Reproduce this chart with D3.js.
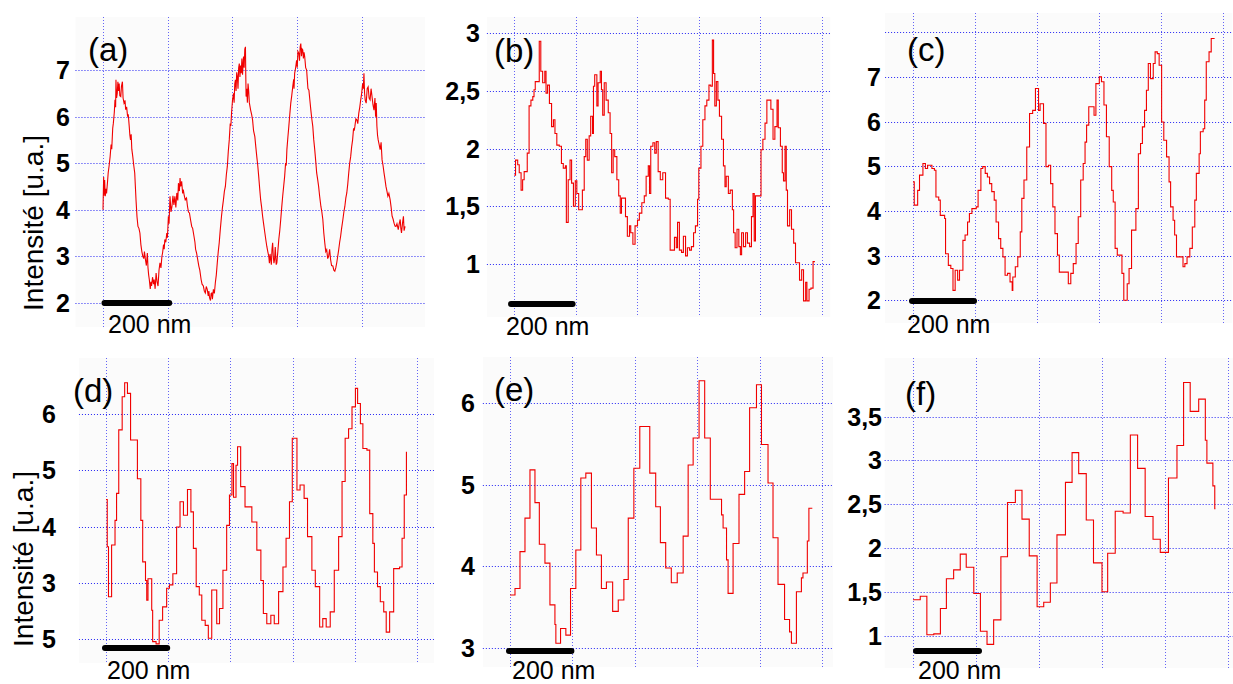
<!DOCTYPE html>
<html><head><meta charset="utf-8">
<script src="https://cdn.jsdelivr.net/npm/d3@7"></script>
<style>
body{margin:0;background:#fff;}
svg{display:block;font-family:"Liberation Sans",Arial,Helvetica,sans-serif;}
</style>
</head><body>
<svg id="chart" width="1233" height="684"></svg>
<script>
// ---------------- DATA ----------------
const panelLabels = ["(a)", "(b)", "(c)", "(d)", "(e)", "(f)"];
const yTitle = "Intensité [u.a.]";
const scaleBarText = "200 nm";
const scaleBarLength = 200; // nm
const xGridNm = [0, 200, 400, 600, 800, 1000];

// y grid values and their printed labels, per panel
const yTicksA = [2, 3, 4, 5, 6, 7];
const yLabelsA = ["2", "3", "4", "5", "6", "7"];
const yTicksB = [1, 1.5, 2, 2.5, 3];
const yLabelsB = ["1", "1,5", "2", "2,5", "3"];
const yTicksC = [2, 3, 4, 5, 6, 7, 8];
const yLabelsC = ["2", "3", "4", "5", "6", "7", ""];
const yTicksD = [2, 3, 4, 5, 6];
const yLabelsD = ["5", "3", "4", "5", "6"];
const yTicksE = [3, 4, 5, 6];
const yLabelsE = ["3", "4", "5", "6"];
const yTicksF = [1, 1.5, 2, 2.5, 3, 3.5];
const yLabelsF = ["1", "1,5", "2", "2,5", "3", "3,5"];

// profiles: [position (nm), intensity (a.u.)]
const profileA = [[0,4.00],[2,4.70],[3,4.30],[5,4.64],[7,4.29],[9,4.45],[11,4.35],[14,4.6],[16,4.79],[19,4.95],[22,5.14],[25,5.40],[27,5.30],[30,5.75],[32,5.86],[35,6.10],[37,6.36],[39,6.20],[40,6.79],[42,6.40],[44,6.50],[46,6.75],[48,6.55],[50,6.71],[52,6.45],[55,6.43],[57,6.65],[60,6.75],[62,6.40],[65,6.29],[68,6.35],[70,6.15],[73,6.21],[76,6.0],[78,6.05],[81,5.79],[83,5.6],[85,5.50],[87,5.62],[89,5.30],[92,5.14],[95,4.95],[98,4.79],[100,4.5],[102,4.21],[105,3.85],[108,3.64],[111,3.60],[114,3.50],[117,3.25],[120,3.10],[123,3.00],[126,2.95],[128,3.10],[131,2.93],[134,2.80],[137,3.07],[139,2.75],[141,2.60],[143,2.50],[146,2.30],[148,2.45],[150,2.36],[153,2.55],[156,2.40],[158,2.50],[161,2.30],[164,2.64],[167,2.45],[170,2.36],[173,2.70],[176,2.86],[179,2.75],[182,3.0],[184,3.07],[187,3.25],[189,3.15],[191,3.36],[194,3.30],[197,3.50],[199,3.40],[202,3.86],[204,3.70],[207,4.29],[210,3.95],[213,4.07],[216,4.30],[219,4.10],[222,4.29],[225,4.05],[228,4.36],[231,4.20],[233,4.57],[236,4.40],[238,4.68],[240,4.50],[243,4.61],[246,4.35],[248,4.43],[251,4.30],[254,4.21],[258,4.25],[261,4.07],[264,3.95],[267,3.93],[270,3.80],[274,3.64],[277,3.60],[281,3.43],[284,3.30],[286,3.15],[289,3.07],[292,2.95],[296,2.79],[299,2.70],[303,2.50],[306,2.40],[310,2.36],[313,2.25],[316,2.21],[319,2.35],[322,2.29],[325,2.15],[327,2.25],[329,2.11],[332,2.05],[334,2.20],[336,2.21],[338,2.08],[341,2.29],[344,2.20],[347,2.43],[350,2.60],[353,2.86],[356,3.10],[359,3.29],[362,3.55],[366,3.86],[369,4.05],[372,4.21],[375,4.40],[378,4.50],[381,4.75],[384,4.93],[387,5.25],[390,5.50],[393,5.85],[395,5.80],[397,6.07],[400,6.35],[403,6.50],[405,6.30],[407,6.70],[409,6.79],[411,6.55],[413,6.95],[415,6.86],[417,6.60],[419,7.05],[421,7.14],[423,6.85],[425,7.10],[427,6.93],[429,7.25],[431,6.90],[434,7.29],[436,7.05],[438,7.45],[440,7.50],[441,6.90],[442,6.43],[444,6.60],[446,6.30],[448,6.71],[450,6.55],[452,6.30],[456,6.14],[459,6.05],[462,5.93],[465,5.70],[469,5.57],[472,5.35],[475,5.14],[478,4.95],[481,4.71],[484,4.45],[487,4.21],[490,4.05],[493,3.86],[496,3.70],[500,3.50],[503,3.35],[506,3.21],[509,3.10],[512,3.00],[514,2.85],[516,3.05],[518,2.93],[520,2.82],[522,3.15],[524,3.29],[526,3.00],[528,2.85],[530,2.93],[532,3.20],[535,2.82],[537,2.86],[540,3.10],[543,3.36],[546,3.55],[549,3.79],[552,4.05],[555,4.29],[558,4.50],[561,4.71],[564,5.0],[566,4.95],[568,5.29],[571,5.55],[574,5.79],[577,6.05],[580,6.29],[583,6.45],[586,6.64],[589,6.80],[590,6.60],[592,6.93],[595,7.05],[598,7.21],[600,7.05],[602,7.40],[605,7.36],[607,7.20],[609,7.50],[611,7.57],[613,7.30],[615,7.45],[617,7.43],[619,7.25],[621,7.38],[623,7.29],[626,7.05],[629,7.00],[631,6.80],[633,6.60],[636,6.57],[639,6.35],[642,6.14],[645,5.95],[648,5.79],[651,5.50],[654,5.29],[657,5.05],[660,4.79],[663,4.65],[666,4.50],[669,4.30],[673,4.07],[676,3.95],[679,3.79],[682,3.50],[685,3.29],[688,3.10],[691,3.14],[694,2.95],[697,3.00],[700,3.15],[703,2.93],[706,2.80],[710,2.79],[713,2.70],[716,2.68],[719,2.75],[722,2.86],[725,3.00],[728,3.14],[731,3.30],[734,3.43],[737,3.60],[741,3.79],[744,3.95],[747,4.07],[750,4.25],[753,4.36],[756,4.55],[759,4.79],[762,5.0],[765,5.14],[768,5.35],[771,5.50],[774,5.75],[776,5.70],[778,5.79],[781,5.95],[784,5.93],[787,5.85],[790,6.07],[793,6.20],[796,6.36],[799,6.50],[802,6.71],[804,6.60],[806,6.93],[808,6.50],[810,6.35],[813,6.29],[816,6.60],[819,6.64],[822,6.40],[825,6.36],[828,6.60],[831,6.43],[834,6.25],[837,6.14],[840,6.40],[842,6.00],[844,6.29],[846,5.80],[848,5.60],[850,5.50],[853,5.40],[856,5.29],[859,5.45],[862,5.07],[865,4.95],[868,4.79],[871,4.65],[874,4.50],[877,4.40],[880,4.29],[883,4.35],[887,4.21],[890,4.05],[893,3.86],[896,3.80],[899,3.71],[902,3.65],[905,3.64],[908,3.70],[912,3.57],[915,3.70],[918,3.79],[920,3.60],[922,3.50],[925,3.70],[928,3.86],[930,3.55],[933,3.64]];

const profileB = [[1,1.77],[5,1.90],[12,1.86],[17,1.79],[23,1.64],[28,1.73],[33,1.80],[43,1.96],[49,2.37],[55,2.42],[61,2.45],[65,2.51],[69,2.58],[82,2.93],[87,2.67],[93,2.57],[100,2.67],[104,2.48],[109,2.55],[115,2.39],[122,2.19],[128,2.25],[133,2.13],[139,2.03],[147,2.02],[154,1.87],[160,1.83],[167,1.85],[170,1.36],[176,1.73],[182,1.90],[187,1.70],[193,1.50],[199,1.72],[204,1.61],[210,1.47],[222,1.64],[228,1.93],[233,2.08],[238,1.90],[244,2.11],[249,2.28],[255,2.13],[258,2.54],[262,2.64],[269,2.37],[273,2.57],[280,2.67],[284,2.51],[288,2.29],[293,2.57],[299,2.42],[306,2.31],[312,2.13],[317,1.79],[322,1.99],[327,1.93],[334,1.73],[340,1.59],[345,1.44],[349,1.57],[362,1.41],[368,1.24],[375,1.33],[379,1.27],[386,1.17],[393,1.33],[401,1.38],[407,1.44],[415,1.53],[423,1.59],[429,1.76],[436,1.85],[440,1.61],[444,2.02],[451,2.05],[457,1.96],[462,2.06],[468,1.80],[475,1.73],[483,1.79],[492,1.57],[501,1.56],[507,1.12],[521,1.23],[527,1.14],[531,1.36],[537,1.12],[544,1.10],[550,1.24],[557,1.07],[563,1.14],[570,1.12],[576,1.15],[583,1.27],[589,1.33],[596,1.56],[600,1.83],[607,2.02],[613,2.25],[620,2.37],[626,2.42],[633,2.55],[639,2.54],[644,2.94],[648,2.65],[652,2.37],[657,2.58],[662,2.42],[667,2.28],[674,2.08],[680,1.85],[685,1.67],[689,1.76],[696,1.61],[702,1.64],[709,1.47],[713,1.27],[718,1.14],[724,1.30],[730,1.15],[735,1.08],[739,1.27],[745,1.15],[752,1.27],[758,1.18],[765,1.15],[771,1.41],[776,1.61],[780,1.20],[784,1.59],[802,1.99],[808,2.08],[815,2.22],[821,2.42],[834,2.34],[841,2.08],[847,2.19],[854,2.42],[858,2.18],[865,2.02],[871,1.79],[875,1.72],[880,2.02],[884,1.64],[888,1.33],[895,1.47],[901,1.30],[908,1.18],[914,1.01],[927,0.86],[934,0.95],[940,0.68],[947,0.84],[951,0.68],[958,0.78],[964,0.79],[971,1.02],[977,1.02]];

const profileC = [[0,4.65],[4,4.13],[15,4.46],[21,4.80],[32,5.06],[40,4.95],[47,5.02],[61,4.95],[69,4.91],[74,4.31],[83,4.24],[88,3.90],[102,3.83],[105,3.04],[114,2.78],[122,2.71],[129,2.22],[136,2.67],[144,2.45],[150,2.67],[161,3.34],[168,3.46],[176,3.75],[182,3.94],[190,4.05],[204,4.09],[210,4.46],[219,4.95],[225,4.99],[233,4.84],[240,4.76],[247,4.61],[254,4.43],[262,4.24],[268,3.75],[276,3.38],[283,3.16],[290,2.97],[297,2.56],[305,2.60],[313,2.41],[320,2.22],[322,2.52],[330,2.75],[338,2.97],[346,3.53],[351,4.28],[358,4.69],[367,5.43],[376,6.18],[386,6.25],[395,6.74],[405,6.25],[410,6.40],[421,5.96],[429,4.99],[437,5.02],[444,4.61],[451,4.09],[458,3.49],[466,3.01],[472,2.63],[501,2.37],[509,2.60],[517,2.82],[526,3.27],[533,3.87],[541,4.69],[549,5.06],[555,5.54],[560,5.92],[567,6.33],[584,6.14],[590,6.85],[601,7.00],[608,6.89],[616,6.37],[624,5.66],[633,4.99],[641,4.46],[646,4.20],[652,3.16],[659,3.01],[674,2.60],[680,2.00],[691,2.37],[697,2.71],[705,3.57],[719,4.05],[727,5.28],[734,5.51],[740,5.88],[747,6.25],[753,6.70],[759,7.30],[766,6.96],[775,7.30],[781,7.56],[788,7.52],[794,7.26],[802,5.99],[809,5.58],[818,5.21],[826,4.65],[831,4.09],[839,3.79],[844,3.46],[850,2.97],[871,2.75],[877,2.82],[884,2.97],[893,3.16],[901,3.64],[909,4.24],[914,4.84],[923,5.28],[927,5.77],[936,5.84],[941,6.48],[946,7.34],[955,7.56],[962,7.86],[973,7.86]];

const profileD = [[0,4.48],[4,3.64],[8,2.75],[18,3.67],[29,4.11],[34,4.59],[41,5.72],[52,6.31],[60,6.56],[69,6.37],[79,5.54],[101,4.85],[112,4.11],[118,3.37],[127,3.04],[131,2.69],[135,3.07],[147,2.51],[150,1.95],[161,1.91],[171,2.33],[182,2.57],[195,2.90],[204,2.96],[215,3.16],[227,3.99],[238,4.44],[249,4.20],[262,4.66],[273,4.26],[281,3.61],[290,2.93],[300,2.78],[308,2.33],[319,2.24],[329,2.01],[340,2.87],[356,2.27],[365,2.54],[376,3.22],[388,4.02],[397,4.56],[405,5.12],[410,4.52],[418,5.09],[423,5.42],[433,4.71],[447,4.35],[469,4.08],[485,3.58],[498,3.04],[506,2.45],[517,2.27],[530,2.42],[541,2.27],[555,2.84],[569,3.28],[579,3.79],[590,4.44],[599,5.57],[614,4.65],[624,4.74],[637,4.50],[648,3.82],[662,3.22],[673,2.93],[687,2.21],[697,2.36],[708,2.21],[721,2.48],[734,3.22],[748,3.82],[759,4.80],[769,5.57],[780,5.74],[791,6.13],[802,6.46],[809,6.19],[818,5.83],[826,5.39],[839,5.36],[848,4.23],[858,3.70],[863,3.19],[873,2.93],[882,2.66],[893,2.48],[901,2.12],[912,2.48],[925,3.25],[944,3.28],[952,3.79],[959,4.56],[966,5.33]];

const profileE = [[0,3.65],[16,3.73],[32,4.18],[48,4.59],[64,5.18],[80,4.78],[94,4.27],[112,4.04],[128,3.53],[144,3.29],[147,3.06],[162,3.24],[179,3.16],[194,3.73],[211,4.20],[227,5.08],[243,5.14],[261,4.47],[277,4.14],[293,3.73],[309,3.81],[329,3.45],[347,3.59],[365,3.84],[379,4.59],[397,5.20],[416,5.71],[448,5.14],[467,4.73],[482,4.29],[499,3.98],[517,3.80],[536,3.92],[555,4.37],[571,5.24],[587,5.57],[606,6.27],[624,5.57],[642,4.82],[678,4.63],[683,4.47],[694,4.08],[699,3.67],[715,4.28],[734,4.88],[752,5.16],[768,5.94],[790,6.22],[806,5.49],[827,5.02],[843,4.35],[859,3.78],[880,3.35],[896,3.20],[902,3.06],[918,3.69],[934,3.86],[939,3.92],[953,4.31],[958,4.71],[969,4.71]];

const profileF = [[0,1.41],[23,1.45],[44,1.01],[66,1.02],[87,1.31],[106,1.65],[129,1.75],[150,1.93],[169,1.78],[193,1.48],[214,1.05],[235,0.90],[256,1.18],[279,1.90],[300,2.52],[325,2.66],[346,2.33],[369,1.91],[394,1.33],[415,1.38],[436,1.60],[457,2.15],[484,2.75],[505,3.09],[526,2.85],[550,2.32],[573,1.83],[600,1.50],[618,1.94],[642,2.42],[667,2.40],[690,3.29],[713,2.91],[737,2.36],[762,2.10],[785,1.95],[811,2.80],[838,3.17],[859,3.89],[880,3.56],[907,3.70],[928,3.23],[933,2.97],[952,2.71],[958,2.45],[960,2.45]];

// ---------------- LAYOUT (pixels) ----------------
const layout = [
  {prof: profileA, ticks: yTicksA, labels: yLabelsA, step: false,
   xd: [-85, 995], x0: 103, px200: 64.75, yd: [1.48, 8.14], yr: [327, 17],
   labX: 70, barY: 303, barDx: 1.5, txt: [108, 333], pl: [88, 61], title: [43, 223]},
  {prof: profileB, ticks: yTicksB, labels: yLabelsB, step: true,
   xd: [-88, 1027], x0: 514, px200: 61.6, yd: [0.54, 3.14], yr: [317, 17],
   labX: 480, barY: 304, barDx: -3, txt: [506, 335], pl: [494, 62]},
  {prof: profileC, ticks: yTicksC, labels: yLabelsC, step: true,
   xd: [-90, 1030], x0: 913, px200: 62, yd: [1.49, 8.43], yr: [323, 13],
   labX: 881, barY: 301, barDx: -1, txt: [907, 333], pl: [907, 61]},
  {prof: profileD, ticks: yTicksD, labels: yLabelsD, step: true,
   xd: [-87, 1055], x0: 106, px200: 62.2, yd: [1.57, 7.0], yr: [663, 358],
   labX: 56, barY: 648, barDx: -1, txt: [107, 679], pl: [73, 402], title: [33, 559]},
  {prof: profileE, ticks: yTicksE, labels: yLabelsE, step: true,
   xd: [-87, 1035], x0: 510, px200: 62.4, yd: [2.77, 6.56], yr: [667, 357],
   labX: 475, barY: 651, barDx: -1, txt: [512, 679], pl: [494, 401]},
  {prof: profileF, ticks: yTicksF, labels: yLabelsF, step: true,
   xd: [-90, 1020], x0: 913, px200: 63, yd: [0.63, 4.17], yr: [668, 358],
   labX: 882, barY: 651, barDx: 3, txt: [918, 679], pl: [905, 405]}
];

const svg = d3.select("#chart");
const gridColor = "#2424f4";

layout.forEach((p, i) => {
  const k = p.px200 / 200;
  const x = d3.scaleLinear().domain(p.xd).range([p.x0 + p.xd[0] * k, p.x0 + p.xd[1] * k]);
  const y = d3.scaleLinear().domain(p.yd).range(p.yr);
  const g = svg.append("g");
  const [xa, xb] = x.range();
  const [ya, yb] = [p.yr[1], p.yr[0]];

  g.append("rect").attr("x", xa).attr("y", ya).attr("width", xb - xa).attr("height", yb - ya)
    .attr("fill", "#fbfbfb");

  // horizontal grid
  g.selectAll("line.h").data(p.ticks).enter().append("line")
    .attr("x1", xa).attr("x2", xb)
    .attr("y1", d => Math.round(y(d)) + 0.5).attr("y2", d => Math.round(y(d)) + 0.5)
    .attr("stroke", gridColor).attr("stroke-width", 1).attr("stroke-dasharray", "1,2");
  // vertical grid
  g.selectAll("line.v").data(xGridNm.filter(v => v <= p.xd[1])).enter().append("line")
    .attr("y1", ya).attr("y2", yb)
    .attr("x1", d => Math.round(x(d)) + 0.5).attr("x2", d => Math.round(x(d)) + 0.5)
    .attr("stroke", gridColor).attr("stroke-opacity", 0.7).attr("stroke-width", 1).attr("stroke-dasharray", "1,2");

  // tick labels
  g.selectAll("text.t").data(p.ticks).enter().append("text")
    .attr("x", p.labX).attr("y", d => y(d)).attr("dy", "0.36em")
    .attr("text-anchor", "end").attr("font-weight", "bold").attr("font-size", 25)
    .attr("fill", "#000").text((d, j) => p.labels[j]);

  // profile line
  const line = d3.line().x(d => x(d[0])).y(d => y(d[1]))
    .curve(p.step ? d3.curveStepAfter : d3.curveLinear);
  g.append("path").datum(p.prof).attr("d", line)
    .attr("fill", "none").attr("stroke", "#f00000").attr("stroke-width", 1.1);

  // panel label
  g.append("text").attr("x", p.pl[0]).attr("y", p.pl[1]).attr("font-size", 33)
    .attr("fill", "#000").text(panelLabels[i]);

  // scale bar
  g.append("line").attr("x1", x(0) + p.barDx).attr("x2", x(scaleBarLength) + p.barDx)
    .attr("y1", p.barY).attr("y2", p.barY)
    .attr("stroke", "#000").attr("stroke-width", 6).attr("stroke-linecap", "round");
  g.append("text").attr("x", p.txt[0]).attr("y", p.txt[1]).attr("font-size", 25)
    .attr("fill", "#000").text(scaleBarText);

  if (p.title) {
    g.append("text").attr("transform", `translate(${p.title[0]},${p.title[1]}) rotate(-90)`)
      .attr("text-anchor", "middle").attr("font-size", 28).attr("fill", "#000").text(yTitle);
  }
});
</script>
</body></html>
